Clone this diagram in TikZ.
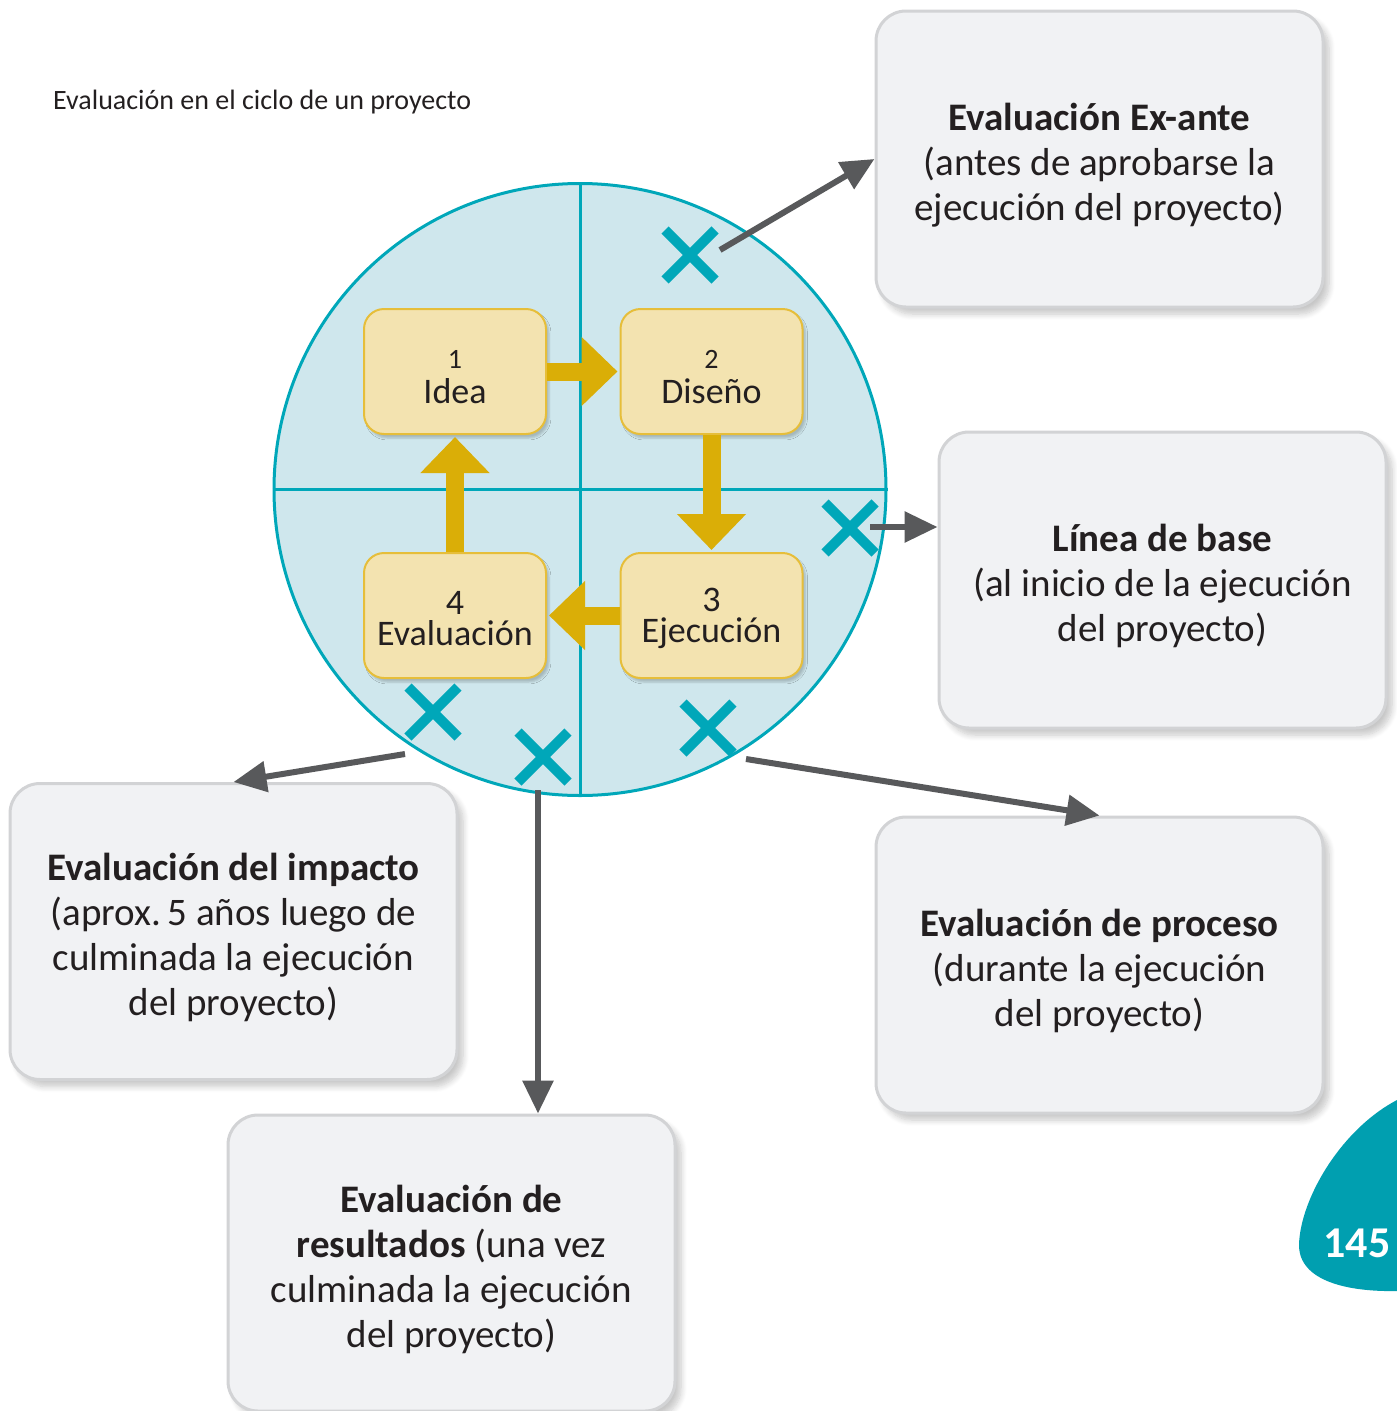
\documentclass[tikz,border=0pt]{standalone}
\usepackage{fontspec}
\setmainfont{Carlito}
\usetikzlibrary{arrows.meta,shadows.blur,calc}
\definecolor{teal}{HTML}{00A7B9}
\definecolor{circfill}{HTML}{CFE7ED}
\definecolor{yfill}{HTML}{F3E3B0}
\definecolor{ydraw}{HTML}{E6BE3A}
\definecolor{yarr}{HTML}{DAAE07}
\definecolor{gfill}{HTML}{F1F2F4}
\definecolor{gdraw}{HTML}{D2D3D5}
\definecolor{garr}{HTML}{58595B}
\definecolor{txt}{HTML}{231F20}
\newcommand{\tstrut}{\rule{0pt}{40pt}}
\newcommand{\ystrut}{\rule{0pt}{30pt}}
\tikzset{
  graybox/.style={draw=gdraw, line width=3pt, fill=gfill, rounded corners=30pt,
    minimum width=447pt, minimum height=296pt, align=center, text=txt,
    font=\fontsize{39}{45}\selectfont,
    blur shadow={shadow xshift=6pt, shadow yshift=-7pt, shadow blur steps=8, shadow blur radius=6pt, shadow opacity=22}},
  ybox/.style={draw=ydraw, line width=2pt, fill=yfill, rounded corners=20pt,
    minimum width=182pt, minimum height=125pt, align=center, text=txt,
    font=\fontsize{36}{31}\selectfont,
    blur shadow={shadow xshift=3pt, shadow yshift=-4pt, shadow blur steps=5, shadow opacity=20}},
  yarrow/.style={draw=yarr, line width=18pt, -{Triangle[length=36pt,width=67pt]}, shorten >=2pt},
  garrow/.style={draw=garr, line width=6pt, -{Triangle[length=33pt,width=30pt]}},
  xmark/.style={draw=teal, line width=10pt},
}
\newcommand{\xm}[1]{\draw[xmark] ($(#1)+(-25,-25)$) -- ($(#1)+(25,25)$) ($(#1)+(-25,25)$) -- ($(#1)+(25,-25)$);}
\begin{document}
\begin{tikzpicture}[x=1pt,y=-1pt]
\useasboundingbox (0,0) rectangle (1397,1411);

% title
\node[anchor=west, text=txt, font=\fontsize{28}{32}\selectfont, inner sep=0pt] (title) at (53,102) {Evaluación en el ciclo de un proyecto};

% circle
\node[circle, draw=teal, line width=3pt, fill=circfill, minimum size=612pt, inner sep=0pt] (circ) at (580,489.5) {};
\draw[teal, line width=3pt] (circ.north) -- (circ.south);
\draw[teal, line width=3pt] (circ.west) -- (circ.east);

% yellow boxes
\node[ybox] (idea) at (455,371.5) {{\fontsize{28}{28}\selectfont\ystrut 1}\\[4pt]Idea};
\node[ybox] (diseno) at (711.5,371.5) {{\fontsize{28}{28}\selectfont\ystrut 2}\\[4pt]Diseño};
\node[ybox] (ejec) at (711.5,615.5) {\ystrut 3\\Ejecución};
\node[ybox] (evalu) at (455,615.5) {\ystrut 4\\Evaluación};

% yellow arrows
\draw[yarrow] (idea.east) -- (diseno.west);
\draw[yarrow] (diseno.south) -- (ejec.north);
\draw[yarrow] (ejec.west) -- (evalu.east);
\draw[yarrow] (evalu.north) -- (idea.south);

% gray boxes
\node[graybox] (exante) at (1099.5,159) {\tstrut\textbf{Evaluación Ex-ante}\\(antes de aprobarse la\\ejecución del proyecto)};
\node[graybox] (lbase) at (1162.5,580) {\tstrut\textbf{Línea de base}\\(al inicio de la ejecución\\del proyecto)};
\node[graybox] (impacto) at (233.5,931.5) {\tstrut\textbf{Evaluación del impacto}\\(aprox.\,5 años luego de\\culminada la ejecución\\del proyecto)};
\node[graybox] (proceso) at (1099.5,965) {\tstrut\textbf{Evaluación de proceso}\\(durante la ejecución\\del proyecto)};
\node[graybox] (result) at (451.5,1263) {\tstrut\textbf{Evaluación de}\\\textbf{resultados} (una vez\\culminada la ejecución\\del proyecto)};

% x marks
\coordinate (x1) at (690,255);
\coordinate (x2) at (850,528);
\coordinate (x3) at (433,712);
\coordinate (x4) at (543,757);
\coordinate (x5) at (708,728);
\xm{x1}\xm{x2}\xm{x3}\xm{x4}\xm{x5}

% gray arrows
\coordinate (s1) at (720,250);
\coordinate (s2) at (870,527);
\coordinate (s3) at (405,754);
\coordinate (s4) at (538,790);
\coordinate (s5) at (746,759);
\draw[garrow] (s1) -- (exante.west);
\draw[garrow] (s2) -- (lbase.west |- s2);
\draw[garrow] (s3) -- (impacto.north);
\draw[garrow] (s4) -- (result.north -| s4);
\draw[garrow] (s5) -- (proceso.north);

% page number blob
\fill[teal!95!black] (1397,1100) .. controls (1340,1130) and (1300,1200) .. (1299,1245)
  .. controls (1299,1282) and (1350,1292) .. (1397,1291) -- cycle;
\node[text=white, font=\fontsize{44}{44}\selectfont\bfseries] (page) at (1357,1243) {145};
\end{tikzpicture}
\end{document}
